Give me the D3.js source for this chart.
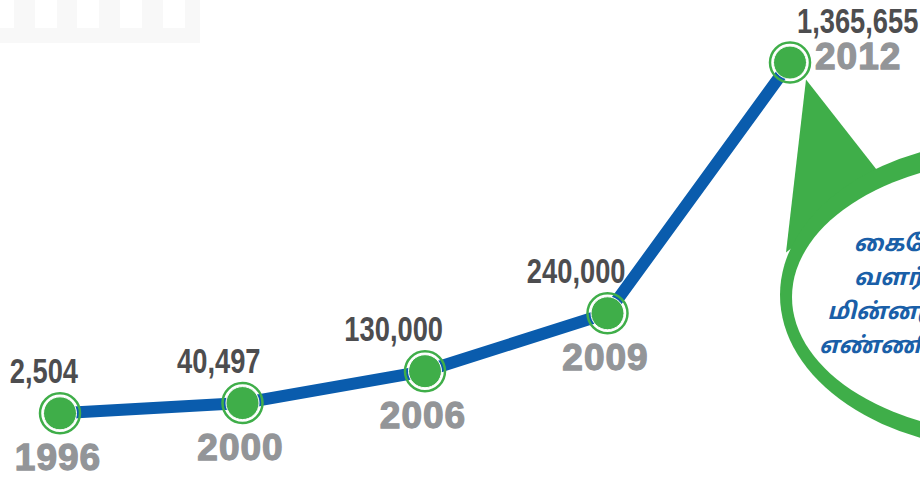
<!DOCTYPE html>
<html>
<head>
<meta charset="utf-8">
<script src="https://cdn.jsdelivr.net/npm/d3@7"></script>
<style>
  body { margin: 0; background: #fff; }
  svg { display: block; }
</style>
</head>
<body>
<div id="chart"></div>
<script>
// data
const years = ['1996', '2000', '2006', '2009', '2012']
const users = [2504, 40497, 130000, 240000, 1365655]
const noteLines = ['கைபேசி', 'வளர்ச்சி', 'மின்னஞ்சல்', 'எண்ணிக்கை']

const width = 920
const height = 478
const green = '#3fae49'
const blue = '#0a5cad'

const svg = d3.select('#chart')
    .append('svg')
    .attr('width', width)
    .attr('height', height)

// faint strip in the top left corner
svg.append('rect')
    .attr('x', 0).attr('y', 0).attr('width', 200).attr('height', 43)
    .attr('fill', '#f8f8f8')
const holes = [0, 35, 77, 120, 163]
svg.selectAll('.hole')
    .data(holes)
    .join('rect')
    .attr('class', 'hole')
    .attr('x', d => d).attr('y', 0)
    .attr('width', (d, i) => i === 0 ? 14 : 22)
    .attr('height', 28)
    .attr('fill', '#fff')

const x = d3.scalePoint()
    .domain(years)
    .range([60, 790])

// broken (piecewise) value axis, like the infographic
const y = d3.scaleLinear()
    .domain([0, 100000, 250000, 1400000])
    .range([414, 387, 308, 55])

const points = years.map((yr, i) => ({ year: yr, value: users[i], x: x(yr), y: y(users[i]) }))
const last = points[points.length - 1]
const isLast = (d, i) => i === points.length - 1

// speech bubble
const bubble = svg.append('g')
bubble.append('path')
    .attr('d', `M${last.x + 16},${last.y + 17} L${last.x - 4},${last.y + 190} L${last.x + 92},${last.y + 114} Z`)
    .attr('fill', green)
bubble.append('ellipse')
    .attr('cx', 1010).attr('cy', 295)
    .attr('rx', 230).attr('ry', 155)
    .attr('fill', green)
bubble.append('ellipse')
    .attr('cx', 1020).attr('cy', 297)
    .attr('rx', 228).attr('ry', 138)
    .attr('fill', '#fff')
bubble.selectAll('.note')
    .data(noteLines)
    .join('text')
    .attr('class', 'note')
    .attr('x', 910)
    .attr('y', (d, i) => 251 + i * 34)
    .attr('text-anchor', 'middle')
    .style('font-family', '"Noto Sans Tamil", "Noto Serif Tamil", "Lohit Tamil", sans-serif')
    .style('font-size', '23px')
    .style('font-weight', 'bold')
    .style('font-style', 'italic')
    .style('fill', '#1a5fa8')
    .text(d => d)

// line
const line = d3.line()
    .x(d => d.x)
    .y(d => d.y)

svg.append('path')
    .datum(points)
    .attr('d', line)
    .attr('fill', 'none')
    .attr('stroke', blue)
    .attr('stroke-width', 12)
    .attr('stroke-linejoin', 'round')

// markers
const marks = svg.selectAll('.mark')
    .data(points)
    .join('g')
    .attr('class', 'mark')
    .attr('transform', d => `translate(${d.x},${d.y})`)

marks.append('circle')
    .attr('r', 20)
    .attr('fill', 'none')
    .attr('stroke', green)
    .attr('stroke-width', 2.5)
marks.append('circle')
    .attr('r', 16.5)
    .attr('fill', green)
    .attr('stroke', '#fff')
    .attr('stroke-width', 1)

// value labels (condensed by squeezing the glyphs)
const fmt = d3.format(',')
svg.selectAll('.value')
    .data(points)
    .join('text')
    .attr('class', 'value')
    .attr('transform', (d, i) => `translate(${isLast(d, i) ? d.x + 7 : d.x + 18},${d.y - 30}) scale(0.78,1)`)
    .attr('text-anchor', (d, i) => isLast(d, i) ? 'start' : 'end')
    .style('font-family', '"Liberation Sans", Arial, sans-serif')
    .style('font-size', '35px')
    .style('font-weight', 'bold')
    .style('fill', '#4d4d4f')
    .text(d => fmt(d.value))

// year labels
svg.selectAll('.year')
    .data(points)
    .join('text')
    .attr('class', 'year')
    .attr('x', (d, i) => isLast(d, i) ? d.x + 25 : d.x - 2)
    .attr('y', (d, i) => isLast(d, i) ? d.y + 6 : d.y + 57)
    .attr('text-anchor', (d, i) => isLast(d, i) ? 'start' : 'middle')
    .style('font-family', '"Liberation Sans", Arial, sans-serif')
    .style('font-size', '37px')
    .style('font-weight', 'bold')
    .style('letter-spacing', '1px')
    .style('fill', '#939598')
    .style('stroke', '#939598')
    .style('stroke-width', 1.3)
    .text(d => d.year)
</script>
</body>
</html>
